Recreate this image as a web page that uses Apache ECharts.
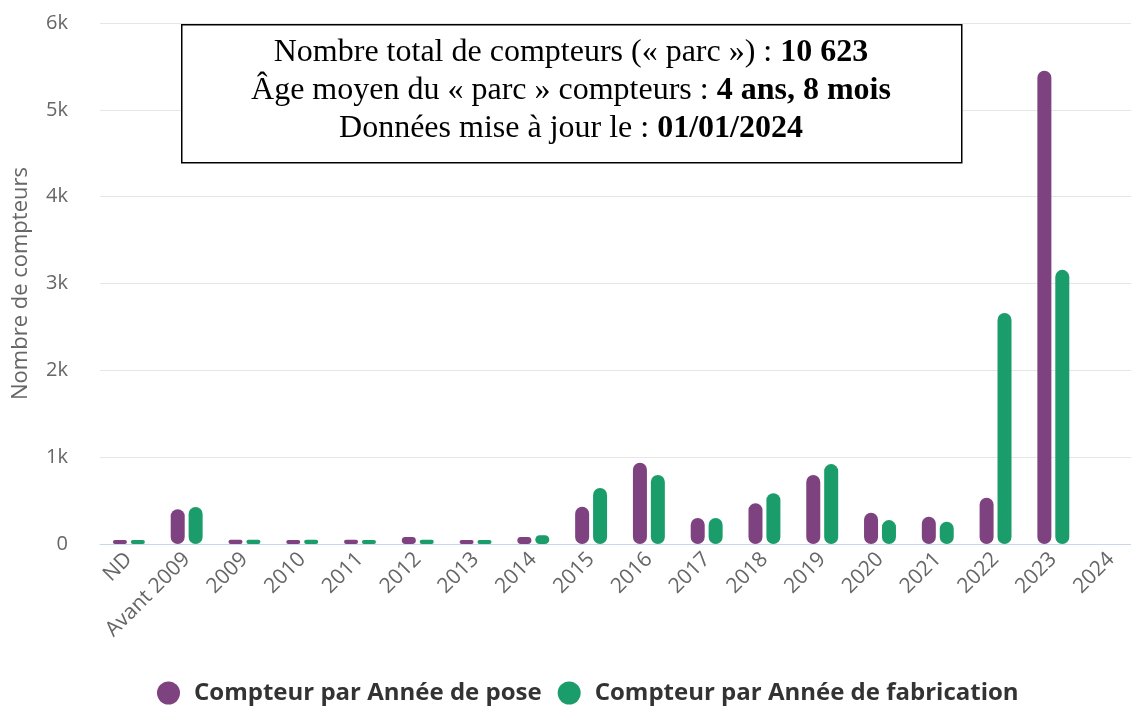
<!DOCTYPE html>
<html>
<head>
<meta charset="utf-8">
<script src="https://cdn.jsdelivr.net/npm/echarts@6/dist/echarts.min.js"></script>
<style>
  html, body { margin: 0; padding: 0; background: #fff; }
  #chart { width: 1131px; height: 706px; }
</style>
</head>
<body>
<div id="chart"></div>
<script>
// data
const categories = ['ND', 'Avant 2009', '2009', '2010', '2011', '2012', '2013', '2014', '2015',
  '2016', '2017', '2018', '2019', '2020', '2021', '2022', '2023', '2024']
const poseValues = [30, 400, 50, 10, 50, 80, 30, 80, 430, 935, 300, 470, 795, 360, 315, 533, 5450, null]
const fabricationValues = [30, 426, 50, 50, 30, 50, 30, 100, 645, 795, 300, 585, 920, 275, 257, 2660, 3157, null]
const yTicks = ['0', '1k', '2k', '3k', '4k', '5k', '6k']
const seriesNames = ['Compteur par Année de pose', 'Compteur par Année de fabrication']
const boxLines = [
    ['Nombre total de compteurs (« parc ») : ', '10 623'],
    ['Âge moyen du « parc » compteurs : ', '4 ans, 8 mois'],
    ['Données mise à jour le : ', '01/01/2024']
]

const purple = '#7d427f'
const green = '#1a9c6b'

const initChart = () => {
    const myChart = echarts.init(document.getElementById('chart'))

    const barStyle = (color) => ({
        type: 'bar',
        barWidth: 14,
        barGap: '28%',
        barMinHeight: 4,
        itemStyle: { color: color, borderRadius: 7 }
    })

    // the info box: frame + one centred line per row
    const boxText = boxLines.map((line, i) => ({
        type: 'text',
        x: 571,
        y: 53 + i * 38,
        z: 101,
        style: {
            text: '{n|' + line[0] + '}{b|' + line[1] + '}',
            align: 'center',
            verticalAlign: 'middle',
            rich: {
                n: { fontFamily: 'Liberation Serif', fontSize: 32, color: '#000' },
                b: { fontFamily: 'Liberation Serif', fontSize: 32, fontWeight: 'bold', color: '#000' }
            }
        }
    }))

    const option = {
        animation: false,
        textStyle: { fontFamily: 'Open Sans' },
        grid: { left: 100, right: -9, top: 23, bottom: 162, outerBoundsMode: 'none' },
        legend: {
            top: 676,
            left: 152,
            icon: 'circle',
            itemWidth: 23,
            itemHeight: 23,
            itemGap: 16,
            textStyle: {
                fontSize: 24, fontWeight: 'bold', color: '#333', fontFamily: 'Open Sans',
                padding: [0, 0, 0, 9]
            },
            data: seriesNames
        },
        xAxis: {
            type: 'category',
            data: categories,
            axisLine: { lineStyle: { color: '#ccd6eb' } },
            axisTick: { show: false },
            axisLabel: { rotate: 45, color: '#666', fontSize: 21, interval: 0, margin: 12 }
        },
        yAxis: {
            type: 'value',
            min: 0,
            max: 6000,
            interval: 1000,
            name: 'Nombre de compteurs',
            nameLocation: 'middle',
            nameGap: 68,
            nameTextStyle: { color: '#666', fontSize: 22 },
            axisLabel: {
                color: '#666',
                fontSize: 20,
                margin: 32,
                formatter: (v) => yTicks[Math.round(v / 1000)]
            },
            splitLine: { lineStyle: { color: '#e6e6e6' } }
        },
        graphic: [
            {
                type: 'rect',
                left: 181,
                top: 24,
                shape: { width: 780, height: 138 },
                style: { fill: '#fff', stroke: '#000', lineWidth: 1.5 },
                z: 100
            }
        ].concat(boxText),
        series: [
            Object.assign({ name: seriesNames[0], data: poseValues }, barStyle(purple)),
            Object.assign({ name: seriesNames[1], data: fabricationValues }, barStyle(green))
        ]
    }

    myChart.setOption(option)
}

window.addEventListener('load', () => {
    initChart()
})
</script>
</body>
</html>
